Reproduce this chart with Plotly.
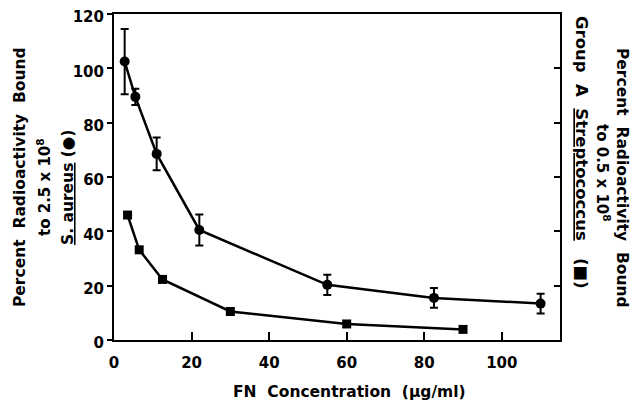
import plotly.graph_objects as go

# S. aureus (circles), left axis
aureus_x = [2.75, 5.5, 11, 22, 55, 82.5, 110]
aureus_y = [102.5, 89.5, 68.5, 40.5, 20.3, 15.5, 13.4]
aureus_err = [12, 3, 6, 5.7, 3.7, 3.6, 3.6]

# Group A Streptococcus (squares), right axis
strep_x = [3.5, 6.5, 12.5, 30, 60, 90]
strep_y = [46, 33.2, 22.3, 10.5, 5.9, 3.9]

x_ticks = [0, 20, 40, 60, 80, 100]
y_ticks = [0, 20, 40, 60, 80, 100, 120]

FONT = "DejaVu Sans"
# page body has an 8px margin, so the figure is sized to fit the 639x410 window
W, H = 623, 394
PL, PR, PT, PB = 114, 560, 14, 340  # plot area in window pixels
OFF = 8
L, T = PL - OFF, PT - OFF
R = W - (PR - OFF)
B = H - (PB - OFF)
PW, PH = PR - PL, PB - PT

def px(xp):
    return (xp - PL) / PW

def py(yp):
    return (PB - yp) / PH

fig = go.Figure()
fig.add_trace(go.Scatter(
    x=aureus_x, y=aureus_y, mode="lines+markers",
    line=dict(color="black", width=2.5),
    marker=dict(symbol="circle", size=10, color="black"),
    error_y=dict(type="data", array=aureus_err, color="black", thickness=2, width=4),
    showlegend=False,
))
fig.add_trace(go.Scatter(
    x=strep_x, y=strep_y, mode="lines+markers", yaxis="y2",
    line=dict(color="black", width=2.5),
    marker=dict(symbol="square", size=9, color="black"),
    showlegend=False,
))

tickfont = dict(family=FONT, size=15, color="black", weight="bold")

fig.update_layout(
    width=W, height=H,
    margin=dict(l=L, r=R, t=T, b=B, autoexpand=False),
    paper_bgcolor="white", plot_bgcolor="white",
    font=dict(family=FONT, color="black", weight="bold"),
    xaxis=dict(
        range=[0, 115], tickvals=x_ticks, ticktext=[str(v) for v in x_ticks],
        ticks="inside", ticklen=8, tickwidth=2, tickcolor="black",
        showline=True, linecolor="black", linewidth=2, mirror=True,
        showgrid=False, zeroline=False, tickfont=tickfont,
        ticklabelstandoff=8, ticklabeloverflow="allow",
    ),
    yaxis=dict(
        range=[0, 120], tickvals=y_ticks, ticktext=[str(v) for v in y_ticks],
        ticks="outside", ticklen=5, tickwidth=2, tickcolor="black",
        showline=True, linecolor="black", linewidth=2,
        showgrid=False, zeroline=False, tickfont=tickfont,
        ticklabeloverflow="allow", ticklabelshift=3,
    ),
    yaxis2=dict(
        range=[0, 120], overlaying="y", side="right",
        tickvals=[20, 40, 60, 80, 100], showticklabels=False,
        ticks="inside", ticklen=6, tickwidth=2, tickcolor="black",
        showline=True, linecolor="black", linewidth=2,
        showgrid=False, zeroline=False,
    ),
)

def ann(text, xp, yp, size, angle):
    fig.add_annotation(
        text=text, x=px(xp), y=py(yp), xref="paper", yref="paper",
        xanchor="center", yanchor="middle", showarrow=False, textangle=angle,
        font=dict(family=FONT, size=size, color="black", weight="bold"),
    )

# left title
ann("Percent\u00a0 Radioactivity\u00a0 Bound", 20, 177, 15.5, -90)
ann("to 2.5 x 10<sup>8</sup>", 44, 187, 15, -90)
ann("<u>S. aureus</u> (\u25cf)", 68, 188, 15.5, -90)
# right title
ann("Percent\u00a0 Radioactivity\u00a0 Bound", 622, 178, 15.5, 90)
ann("to 0.5 x 10<sup>8</sup>", 603, 173, 15, 90)
ann("Group\u00a0 A\u00a0 <u>Streptococcus</u>\u00a0\u00a0 (\u25a0)", 582, 152, 16.5, 90)
# x title
ann("FN\u00a0 Concentration\u00a0 (\u00b5g/ml)", 349, 392, 15.5, 0)

fig.write_html("out.html")
